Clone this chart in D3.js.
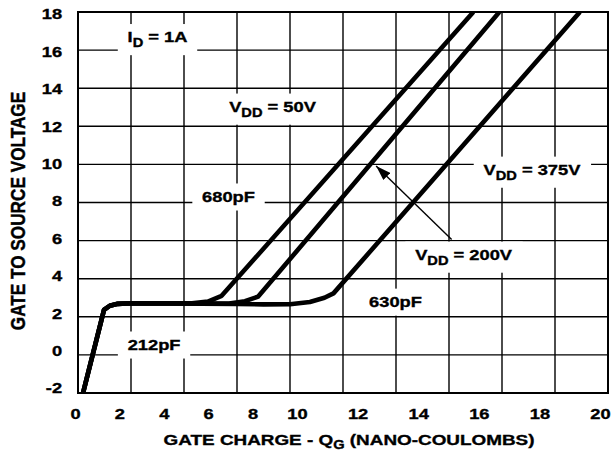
<!DOCTYPE html>
<html><head><meta charset="utf-8">
<script src="https://cdn.jsdelivr.net/npm/d3@7"></script>
<style>
html,body{margin:0;padding:0;background:#fff;}
svg{display:block;font-family:"Liberation Sans",Arial,Helvetica,sans-serif;font-weight:bold;}
svg text{stroke:#000;stroke-width:0.35px;}
</style>
</head><body>
<svg id="chart" width="616" height="453"></svg>
<script>
// ---------- data ----------
const xTicks = [0, 2, 4, 6, 8, 10, 12, 14, 16, 18, 20];
const yTicks = [-2, 0, 2, 4, 6, 8, 10, 12, 14, 16, 18];

// gate charge (nC) , gate-source voltage (V)
const vdd50 = [[0.19,-2],[0.98,2.36],[1.2,2.58],[1.5,2.68],[2.0,2.71],[4.3,2.71],[4.9,2.8],[5.42,3.1],[14.92,18.0]];
const vdd200 = [[0.19,-2],[0.98,2.36],[1.2,2.58],[1.5,2.68],[2.0,2.71],[5.7,2.7],[6.3,2.82],[6.8,3.06],[15.9,18.0]];
const vdd375 = [[0.19,-2],[0.98,2.36],[1.2,2.58],[1.5,2.68],[2.0,2.71],[6.0,2.67],[7.0,2.65],[8.0,2.66],[8.75,2.78],[9.3,3.0],[9.64,3.23],[18.94,18.0]];
const seriesList = [vdd50, vdd200, vdd375];

const xTitleParts = [["GATE CHARGE - Q", 0], ["G", 1], [" (NANO-COULOMBS)", 0]];
const yTitleText = "GATE TO SOURCE VOLTAGE";

const annotationTexts = [
  [["I",0],["D",1],[" = 1A",0]],
  [["V",0],["DD",1],[" = 50V",0]],
  [["680pF",0]],
  [["V",0],["DD",1],[" = 375V",0]],
  [["V",0],["DD",1],[" = 200V",0]],
  [["630pF",0]],
  [["212pF",0]]
];
// anchor of each annotation (centre x, baseline y) in data units
const annotationAnchors = [[3.0,16.4],[7.34,12.75],[5.68,8.03],[17.13,9.44],[14.55,4.98],[11.98,2.51],[2.87,0.26]];
// arrow from V_DD = 200V label to its curve (data units)
const arrowFrom = [14.1, 6.06];
const arrowTo = [11.25, 9.92];

// ---------- layout ----------
const W = 616, H = 453;
const L = 78, R = 608, T = 12, B = 393;
const SX = 1.22;      // horizontal glyph stretch of the original print
const FS = 15;        // label font size

const svg = d3.select("#chart");
const x = d3.scaleLinear().domain([0, 20]).range([L, R]);
const y = d3.scaleLinear().domain([-2, 18]).range([B, T]);
// tick labels of the original are not exactly on the grid lines
const xLab = d3.scaleLinear().domain([0, 10, 20]).range([75, 297, 600]);
const yLab = d3.scaleLinear().domain([-2, 18]).range([388, 14]);

// grid
const grid = svg.append("g").attr("stroke", "#000").attr("stroke-width", 1.4);
grid.selectAll("line.v").data(xTicks).join("line").attr("class","v")
  .attr("x1", d => x(d)).attr("x2", d => x(d)).attr("y1", T).attr("y2", B);
grid.selectAll("line.h").data(yTicks).join("line").attr("class","h")
  .attr("y1", d => y(d)).attr("y2", d => y(d)).attr("x1", L).attr("x2", R);
svg.append("rect").attr("x", L).attr("y", T).attr("width", R - L).attr("height", B - T)
  .attr("fill", "none").attr("stroke", "#000").attr("stroke-width", 2);

// axes labels
const fmt = d => String(d);
const xAxis = svg.append("g").attr("transform", `translate(0,${B})`)
  .call(d3.axisBottom(xLab).tickValues(xTicks).tickSize(0).tickPadding(15).tickFormat(fmt));
xAxis.select(".domain").remove();
xAxis.selectAll("text").attr("font-size", FS).attr("fill", "#000")
  .attr("transform", `scale(${SX},1)`);

const yAxis = svg.append("g").attr("transform", `translate(${L},0)`)
  .call(d3.axisLeft(yLab).tickValues(yTicks).tickSize(0).tickPadding(13).tickFormat(fmt));
yAxis.select(".domain").remove();
yAxis.selectAll("text").attr("font-size", FS).attr("fill", "#000")
  .attr("transform", `scale(${SX},1)`);
svg.selectAll("g[font-family]").attr("font-family", null).attr("font-size", null);

// helper: text with subscripts
function addParts(textSel, parts, subSize, subShift) {
  let shifted = 0;
  parts.forEach(([s, sub]) => {
    const t = textSel.append("tspan").text(s);
    if (sub && !shifted) { t.attr("font-size", subSize).attr("dy", subShift); shifted = 1; }
    else if (!sub && shifted) { t.attr("dy", -subShift); shifted = 0; }
    else if (sub) t.attr("font-size", subSize);
  });
}

// annotations with white boxes
annotationTexts.forEach((parts, i) => {
  const [ax, ay] = annotationAnchors[i];
  const g = svg.append("g").attr("transform", `translate(${x(ax)},${y(ay)}) scale(${SX},1)`);
  const rect = g.append("rect").attr("fill", "#fff");
  const t = g.append("text").attr("text-anchor", "middle").attr("font-size", FS).attr("fill", "#000");
  addParts(t, parts, 12, 5);
  const bb = t.node().getBBox();
  const px = 8, py = 5;
  rect.attr("x", bb.x - px).attr("y", bb.y - py).attr("width", bb.width + 2 * px).attr("height", bb.height + 2 * py);
});

// curves
svg.append("clipPath").attr("id", "plotclip").append("rect")
  .attr("x", L).attr("y", T).attr("width", R - L).attr("height", B - T);
const line = d3.line().x(d => x(d[0])).y(d => y(d[1])).curve(d3.curveLinear);
svg.append("g").attr("clip-path", "url(#plotclip)")
  .selectAll("path").data(seriesList).join("path")
  .attr("d", line).attr("fill", "none").attr("stroke", "#000")
  .attr("stroke-width", 4.6).attr("stroke-linejoin", "round");

// arrow
const defs = svg.append("defs");
defs.append("marker").attr("id", "ah").attr("markerUnits", "userSpaceOnUse")
  .attr("markerWidth", 16).attr("markerHeight", 10).attr("refX", 15).attr("refY", 5)
  .attr("orient", "auto")
  .append("path").attr("d", "M0,0 L15,5 L0,10 Z").attr("fill", "#000");
svg.append("line").attr("x1", x(arrowFrom[0])).attr("y1", y(arrowFrom[1]))
  .attr("x2", x(arrowTo[0])).attr("y2", y(arrowTo[1]))
  .attr("stroke", "#000").attr("stroke-width", 1.4).attr("marker-end", "url(#ah)");

// axis titles
const xt = svg.append("text").attr("text-anchor", "middle").attr("font-size", 15.5).attr("fill", "#000")
  .attr("transform", `translate(349,445) scale(${SX},1)`);
addParts(xt, xTitleParts, 12, 4);

svg.append("text").attr("text-anchor", "middle").attr("font-size", 17.2).attr("fill", "#000")
  .attr("transform", `translate(17,211) rotate(-90) scale(1,${SX})`).attr("dy", "0.36em")
  .text(yTitleText);
</script>
</body></html>
